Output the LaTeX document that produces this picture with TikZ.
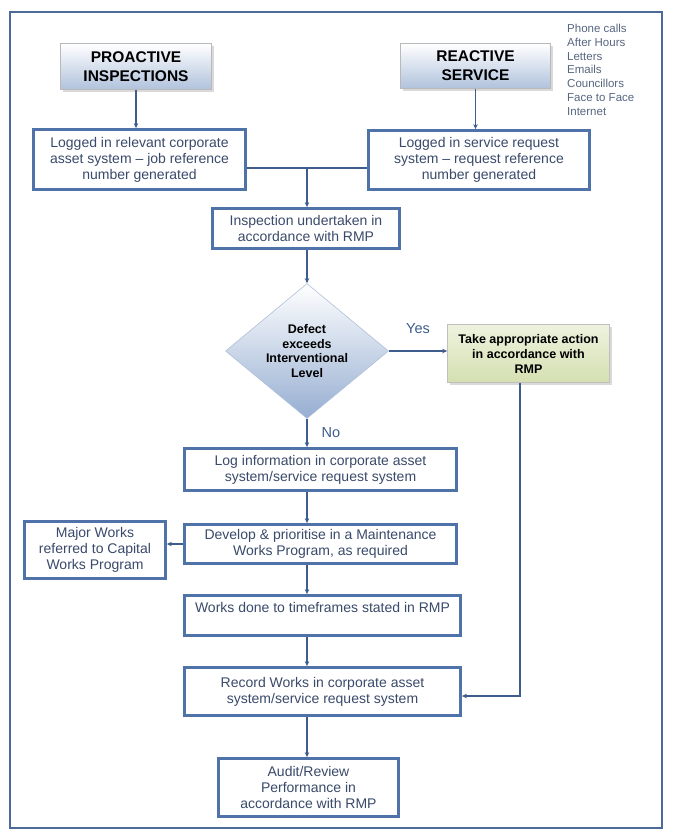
\documentclass[tikz,border=0pt]{standalone}
\usepackage{fontspec}
\setmainfont{Liberation Sans}
\usetikzlibrary{shapes.geometric,shadows,arrows.meta}

\definecolor{boxblue}{RGB}{79,114,168}
\definecolor{txtblue}{RGB}{58,74,106}
\definecolor{linkblue}{RGB}{62,92,140}
\definecolor{framecol}{RGB}{78,106,150}
\definecolor{headblue}{RGB}{176,194,220}
\definecolor{diablue}{RGB}{150,174,210}
\definecolor{actgreen}{RGB}{212,224,176}

\begin{document}
\begin{tikzpicture}[x=1pt, y=-1pt, >={Stealth[length=5pt,width=4.5pt]},
  flowbox/.style={draw=boxblue, line width=2.8pt, fill=white, text=txtblue,
    align=center, inner sep=0pt, font=\fontsize{14}{16}\selectfont},
  headbox/.style={draw=gray!55, line width=0.6pt, top color=white,
    bottom color=headblue, align=center, inner sep=0pt,
    font=\bfseries\fontsize{15.5}{19}\selectfont,
    drop shadow={shadow xshift=2pt, shadow yshift=-2.5pt, opacity=0.3}},
  decision/.style={diamond, draw=boxblue!45, line width=0.6pt, top color=white,
    bottom color=diablue, align=center, inner sep=0pt,
    font=\bfseries\fontsize{12.5}{14.5}\selectfont},
  actbox/.style={draw=gray!50, line width=0.6pt, top color=white!60!actgreen,
    bottom color=actgreen, align=center, inner sep=0pt,
    font=\bfseries\fontsize{12.5}{15}\selectfont,
    drop shadow={shadow xshift=2pt, shadow yshift=-2.5pt, opacity=0.3}},
  listtext/.style={text=txtblue!85, align=left, inner sep=0pt,
    font=\fontsize{11.5}{13.8}\selectfont},
  branchlabel/.style={text=linkblue, inner sep=0pt, font=\fontsize{14.5}{16}\selectfont},
  link/.style={draw=linkblue, line width=1.3pt}]

  % Fix the page size and draw the outer frame
  \useasboundingbox (0,0) rectangle (674,831);
  \draw[framecol, line width=1.6pt] (10,12) rectangle (662,828);

  % Define the joint points of the connectors
  \coordinate (join) at (307,168);
  \coordinate (bend) at (520,696);

  % The two sources
  \node[headbox, minimum width=151pt, minimum height=46pt] (pro) at (136,66.5) {PROACTIVE\\INSPECTIONS};
  \node[headbox, minimum width=150pt, minimum height=45pt] (res) at (475.5,66) {REACTIVE\\SERVICE};
  \node[listtext, anchor=north west] (media) at (567,24) {Phone calls\\After Hours\\Letters\\Emails\\Councillors\\Face to Face\\Internet};

  % Logging boxes
  \node[flowbox, minimum width=212pt, minimum height=60pt] (logpro) at (139.5,159.5)
    {Logged in relevant corporate\\asset system -- job reference\\number generated};
  \node[flowbox, minimum width=221pt, minimum height=59pt] (logres) at (479,160)
    {Logged in service request\\system -- request reference\\number generated};
  \node[flowbox, minimum width=187pt, minimum height=40pt] (insp) at (306,228.5)
    {Inspection undertaken in\\accordance with RMP};

  % Decision and action
  \node[decision, minimum width=163pt, minimum height=135pt] (dec) at (307,351)
    {Defect\\exceeds\\Interventional\\Level};
  \node[actbox, minimum width=162pt, minimum height=58pt] (act) at (528.5,353.5)
    {Take appropriate action\\in accordance with\\RMP};

  % Works boxes
  \node[flowbox, minimum width=272pt, minimum height=42pt] (loginfo) at (320.5,469.5)
    {Log information in corporate asset\\system/service request system};
  \node[flowbox, minimum width=272pt, minimum height=39pt] (develop) at (320.5,544)
    {Develop \& prioritise in a Maintenance\\Works Program, as required};
  \node[flowbox, minimum width=141pt, minimum height=57pt] (major) at (95,550)
    {Major Works\\referred to Capital\\Works Program};
  \node[flowbox, minimum width=276pt, minimum height=40pt] (works) at (322.5,615.5)
    {Works done to timeframes stated in RMP\\~};
  \node[flowbox, minimum width=276pt, minimum height=48pt] (record) at (322.5,691.5)
    {Record Works in corporate asset\\system/service request system};
  \node[flowbox, minimum width=180pt, minimum height=58pt] (audit) at (308.5,787.5)
    {Audit/Review\\Performance in\\accordance with RMP};

  % Connectors
  \draw[link, ->] (pro.south) -- (pro.south |- logpro.north);
  \draw[link, ->] (res.south) -- (res.south |- logres.north);
  \draw[link] (logpro.east |- join) -- (logres.west |- join);
  \draw[link, ->] (join) -- (insp.north -| join);
  \draw[link, ->] (dec.east) -- node[branchlabel, above=17pt] {Yes} (dec.east -| act.west);
  \draw[link, ->] (dec.south) -- node[branchlabel, right=14pt] {No} (loginfo.north -| join);
  \draw[link, ->] (develop.west) -- (develop.west -| major.east);
  \draw[link, ->] (act.south -| bend) |- (record.east |- bend);
  \foreach \a/\b in {insp/dec, loginfo/develop, develop/works, works/record, record/audit}
  \draw[link, ->] (\a.south -| join) -- (\b.north -| join);
\end{tikzpicture}
\end{document}
